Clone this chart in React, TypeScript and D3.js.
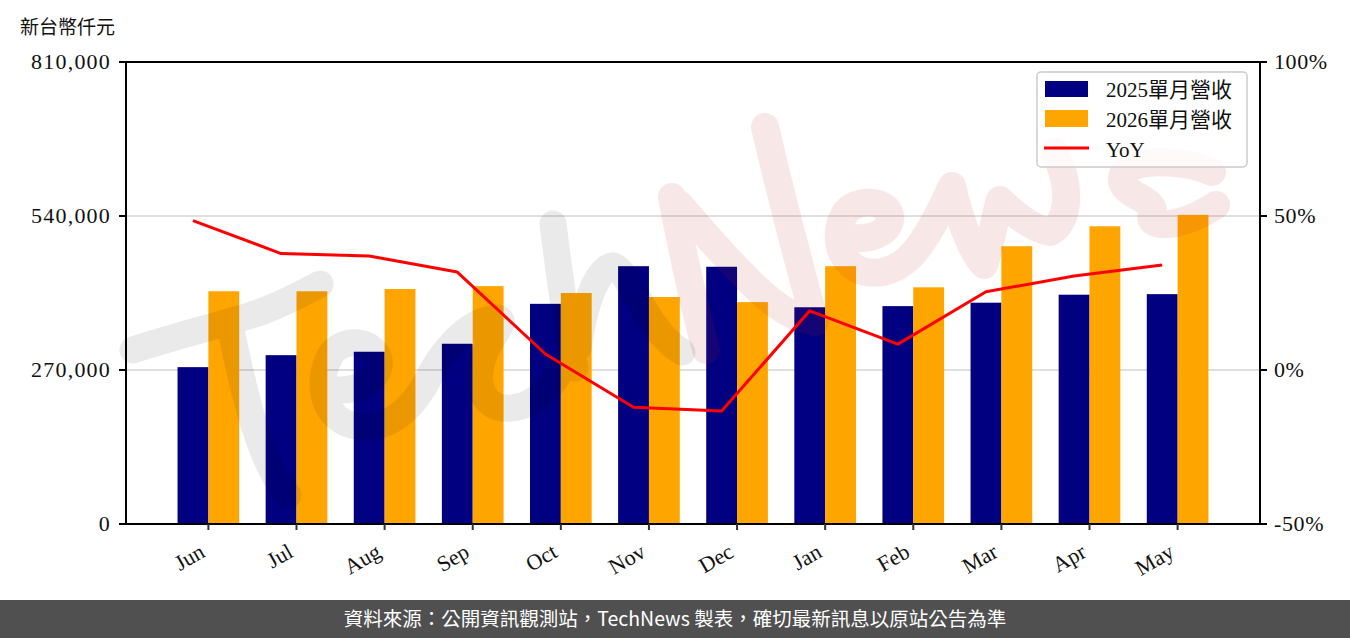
import React from "react";
import * as d3 from "d3";

const months = ["Jun", "Jul", "Aug", "Sep", "Oct", "Nov", "Dec", "Jan", "Feb", "Mar", "Apr", "May"];
const rev2025 = [275000, 296000, 302000, 316000, 386000, 452000, 451000, 380000, 382000, 388000, 402000, 403000];
const rev2026 = [408000, 408000, 412000, 417000, 405000, 398000, 389000, 452000, 415000, 487000, 522000, 542000];
const yoyPct = [48.5, 37.8, 37.0, 31.8, 5.2, -12.1, -13.3, 19.2, 8.4, 25.4, 30.5, 34.1];
const leftTicks = [0, 270000, 540000, 810000];
const rightTicks = [-0.5, 0, 0.5, 1.0];
const legendLabels = ["2025單月營收", "2026單月營收", "YoY"];

const W = 1350;
const H = 638;
const L = 126, R = 1260, T = 62, B = 524;
const serif = "'Liberation Serif', 'Noto Sans CJK TC', serif";
const cjk = "'Noto Sans CJK TC', 'Noto Sans', sans-serif";
const NAVY = "#000080";
const ORANGE = "#FFA500";
const BW = 0.35;

export default function App() {
  const x = d3.scaleLinear().domain([-0.935, 11.935]).range([L, R]);
  const yL = d3.scaleLinear().domain([0, 810000]).range([B, T]);
  const yR = d3.scaleLinear().domain([-0.5, 1.0]).range([B, T]);
  const line = d3
    .line<number>()
    .x((_, i) => x(i - BW / 2))
    .y((d) => yR(d / 100));
  const fmt = d3.format(",");

  return (
    <svg
      width={W}
      height={H}
      style={{ position: "absolute", left: 0, top: 0, background: "#fff" }}
      xmlns="http://www.w3.org/2000/svg"
    >
      <rect x={0} y={0} width={W} height={H} fill="#fff" />
      {/* title */}
      <text x={20} y={34} fontFamily={cjk} fontSize={19} fill="#111">
        新台幣仟元
      </text>

      {/* grid */}
      {leftTicks.map((t) => (
        <line key={"g" + t} x1={L} x2={R} y1={yL(t)} y2={yL(t)} stroke="#d4d4d4" strokeWidth={1.6} />
      ))}

      {/* bars */}
      {rev2025.map((v, i) => (
        <rect key={"a" + i} x={x(i - BW)} y={yL(v)} width={x(i) - x(i - BW)} height={B - yL(v)} fill={NAVY} />
      ))}
      {rev2026.map((v, i) => (
        <rect key={"b" + i} x={x(i)} y={yL(v)} width={x(i + BW) - x(i)} height={B - yL(v)} fill={ORANGE} />
      ))}

      {/* watermark */}
      <g opacity={0.08} fill="none" stroke="#000" strokeWidth={27} strokeLinecap="round" strokeLinejoin="round">
        <path d="M 133 350 C 175 336, 225 324, 258 313 C 285 303, 305 292, 320 284" />
        <path d="M 232 335 C 240 372, 250 420, 265 455 C 272 472, 280 485, 288 495" />
        <path d="M 332 390 C 357 392, 382 380, 379 360 C 375 340, 342 336, 330 356 C 316 382, 322 420, 356 426 C 388 431, 410 410, 425 385 C 440 352, 468 320, 497 318 C 508 320, 495 332, 487 348 C 474 375, 478 405, 503 408 C 527 410, 546 395, 560 372" />
        <path d="M 553 224 C 560 280, 567 330, 575 368" />
        <path d="M 578 348 C 585 300, 598 268, 613 266 C 630 270, 645 330, 682 352" />
      </g>
      <g opacity={0.105} fill="none" stroke="rgb(200,40,40)" strokeWidth={28} strokeLinecap="round" strokeLinejoin="round">
        <path d="M 672 197 C 682 250, 694 305, 706 350" />
        <path d="M 680 205 C 710 240, 745 280, 770 300 C 785 312, 797 318, 808 320" />
        <path d="M 765 127 C 775 170, 795 250, 815 322" />
        <path d="M 850 238 C 872 240, 892 232, 890 215 C 886 200, 858 198, 846 212 C 832 232, 838 266, 866 272 C 890 276, 908 262, 920 245 C 932 228, 942 208, 950 190" />
        <path d="M 952 186 C 960 220, 970 250, 984 265 C 992 240, 995 215, 1000 200 C 1015 215, 1035 230, 1050 232 C 1065 225, 1075 195, 1055 152" />
        <path d="M 1212 172 C 1180 158, 1125 158, 1122 178 C 1120 196, 1158 198, 1152 214 C 1146 228, 1178 230, 1216 205" />
      </g>

      {/* YoY line */}
      <path d={line(yoyPct) || ""} fill="none" stroke="#ff0000" strokeWidth={3} strokeLinejoin="round" />

      {/* spines */}
      <rect x={L} y={T} width={R - L} height={B - T} fill="none" stroke="#000" strokeWidth={2} />

      {/* left axis */}
      {leftTicks.map((t) => (
        <g key={"l" + t}>
          <line x1={L - 7} x2={L} y1={yL(t)} y2={yL(t)} stroke="#000" strokeWidth={2} />
          <text x={111} y={yL(t)} dy="0.34em" textAnchor="end" fontFamily={serif} fontSize={22} letterSpacing={1.2} fill="#111">
            {fmt(t)}
          </text>
        </g>
      ))}
      {/* right axis */}
      {rightTicks.map((t) => (
        <g key={"r" + t}>
          <line x1={R} x2={R + 7} y1={yR(t)} y2={yR(t)} stroke="#000" strokeWidth={2} />
          <text x={1274} y={yR(t)} dy="0.34em" textAnchor="start" fontFamily={serif} fontSize={22} letterSpacing={0.6} fill="#111">
            {`${Math.round(t * 100)}%`}
          </text>
        </g>
      ))}
      {/* bottom axis */}
      {months.map((m, i) => (
        <g key={"m" + m}>
          <line x1={x(i)} x2={x(i)} y1={B} y2={B + 6} stroke="#333" strokeWidth={2} />
          <text
            x={x(i) - 2}
            y={556}
            textAnchor="end"
            fontFamily={serif}
            fontSize={22}
            fill="#111"
            transform={`rotate(-30 ${x(i) - 2} 556)`}
          >
            {m}
          </text>
        </g>
      ))}

      {/* legend */}
      <g>
        <rect x={1037} y={72} width={210} height={95} rx={4} fill="#fff" fillOpacity={0.8} stroke="#cccccc" strokeWidth={1.5} />
        <rect x={1045} y={81} width={43} height={16} fill={NAVY} />
        <rect x={1045} y={110} width={43} height={17} fill={ORANGE} />
        <line x1={1044} x2={1089} y1={148} y2={148} stroke="#ff0000" strokeWidth={3} />
        {legendLabels.map((s, i) => (
          <text key={s} x={1106} y={97 + i * 30} fontFamily={serif} fontSize={21} fill="#111">
            {s}
          </text>
        ))}
      </g>

      {/* footer */}
      <rect x={0} y={600} width={W} height={38} fill="#505050" />
      <text x={675} y={626} textAnchor="middle" fontFamily={cjk} fontSize={19.5} fill="#fff">
        資料來源：公開資訊觀測站，TechNews 製表，確切最新訊息以原站公告為準
      </text>
    </svg>
  );
}
